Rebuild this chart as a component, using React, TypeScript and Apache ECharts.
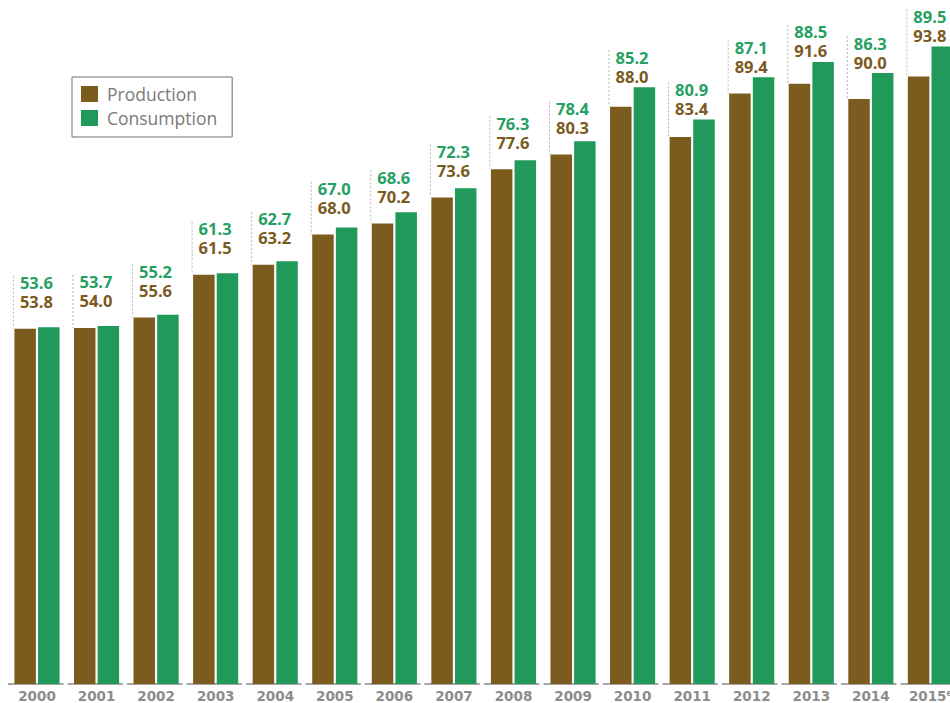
import React, { useEffect, useRef } from "react";
import * as echarts from "echarts";

const years = ["2000", "2001", "2002", "2003", "2004", "2005", "2006", "2007", "2008", "2009", "2010", "2011", "2012", "2013", "2014", "2015e"];
const production = [53.6, 53.7, 55.2, 61.3, 62.7, 67.0, 68.6, 72.3, 76.3, 78.4, 85.2, 80.9, 87.1, 88.5, 86.3, 89.5];
const consumption = [53.8, 54.0, 55.6, 61.5, 63.2, 68.0, 70.2, 73.6, 77.6, 80.3, 88.0, 83.4, 89.4, 91.6, 90.0, 93.8];

const BROWN = "#7c5b1e";
const GREEN = "#21995a";
const LABEL_BROWN = "#7a5a20";
const LABEL_GREEN = "#26a062";

export default function App() {
  const ref = useRef<HTMLDivElement>(null);
  useEffect(() => {
    if (!ref.current) return;
    const chart = echarts.init(ref.current, null, { renderer: "svg" });
    const labelData = years.map((_, i) => [i, production[i], consumption[i]]);
    const BAR_W = 21.5;
    const LINE_H = 19;
    const option: any = {
      animation: false,
      backgroundColor: "#ffffff",
      grid: { left: 7.2, width: 953, top: 5, bottom: 19, containLabel: false, outerBoundsMode: "none" },
      legend: {
        data: ["Production", "Consumption"],
        orient: "vertical",
        left: 72,
        top: 77,
        borderColor: "#707070",
        borderWidth: 1,
        padding: [8, 15, 10, 9],
        itemWidth: 17,
        itemHeight: 16,
        itemGap: 6,
        icon: "rect",
        textStyle: { color: "#7a7a7a", fontSize: 17.5, fontFamily: "Open Sans", padding: [0, 0, 0, 4] },
      },
      xAxis: {
        type: "category",
        data: years,
        axisTick: { show: false },
        axisLine: {
          show: true,
          lineStyle: { color: "#a6a6a6", width: 2, type: [54, 5.5], dashOffset: 57.7 },
        },
        axisLabel: {
          interval: 0,
          margin: 5,
          formatter: (v: string) => (v.endsWith("e") ? `{y|${v.slice(0, -1)}}{e|e}` : `{y|${v}}`),
          rich: {
            y: { fontFamily: "DejaVu Sans", fontWeight: "bold", fontSize: 13.5, color: "#8c8c8c", lineHeight: 13 },
            e: { fontFamily: "DejaVu Sans", fontWeight: "bold", fontSize: 8, color: "#8c8c8c", lineHeight: 8, verticalAlign: "top" },
          },
        },
      },
      yAxis: { type: "value", min: 3, max: 99.7, show: false, splitLine: { show: false } },
      series: [
        {
          name: "Production",
          type: "bar",
          data: production,
          barWidth: BAR_W,
          barGap: "10%",
          itemStyle: { color: BROWN },
          z: 3,
        },
        {
          name: "Consumption",
          type: "bar",
          data: consumption,
          barWidth: BAR_W,
          barGap: "10%",
          itemStyle: { color: GREEN },
          z: 3,
        },
        {
          name: "labels",
          type: "custom",
          data: labelData,
          clip: false,
          z: 5,
          renderItem: (params: any, api: any) => {
            const idx = api.value(0);
            const p = api.value(1);
            const c = api.value(2);
            const pp = api.coord([idx, p]);
            const cp = api.coord([idx, c]);
            const cx = pp[0];
            const brownLeft = cx - (BAR_W * 2 + BAR_W * 0.1) / 2;
            const brownTop = pp[1];
            const greenTop = cp[1];
            const brownLabelY = Math.min(brownTop - 27, greenTop - 11);
            const greenLabelY = brownLabelY - LINE_H;
            const tx = brownLeft + 5.5;
            return {
              type: "group",
              children: [
                {
                  type: "line",
                  shape: { x1: brownLeft - 1, y1: greenLabelY - 7, x2: brownLeft - 1, y2: brownTop },
                  style: { stroke: "#b5b5b5", lineWidth: 1, lineDash: [2, 2] },
                },
                {
                  type: "text",
                  x: tx,
                  y: greenLabelY - LINE_H / 2,
                  style: {
                    text: `{g|${p.toFixed(1)}}\n{b|${c.toFixed(1)}}`,
                    rich: {
                      g: { fill: LABEL_GREEN, fontWeight: "bold", fontSize: 16.5, fontFamily: "Open Sans", lineHeight: LINE_H },
                      b: { fill: LABEL_BROWN, fontWeight: "bold", fontSize: 16.5, fontFamily: "Open Sans", lineHeight: LINE_H },
                    },
                    textAlign: "left",
                    textVerticalAlign: "top",
                  },
                },
              ],
            };
          },
        },
      ],
    };
    chart.setOption(option);
    return () => chart.dispose();
  }, []);
  return <div ref={ref} style={{ position: "fixed", left: 0, top: 0, width: 950, height: 703 }} />;
}
